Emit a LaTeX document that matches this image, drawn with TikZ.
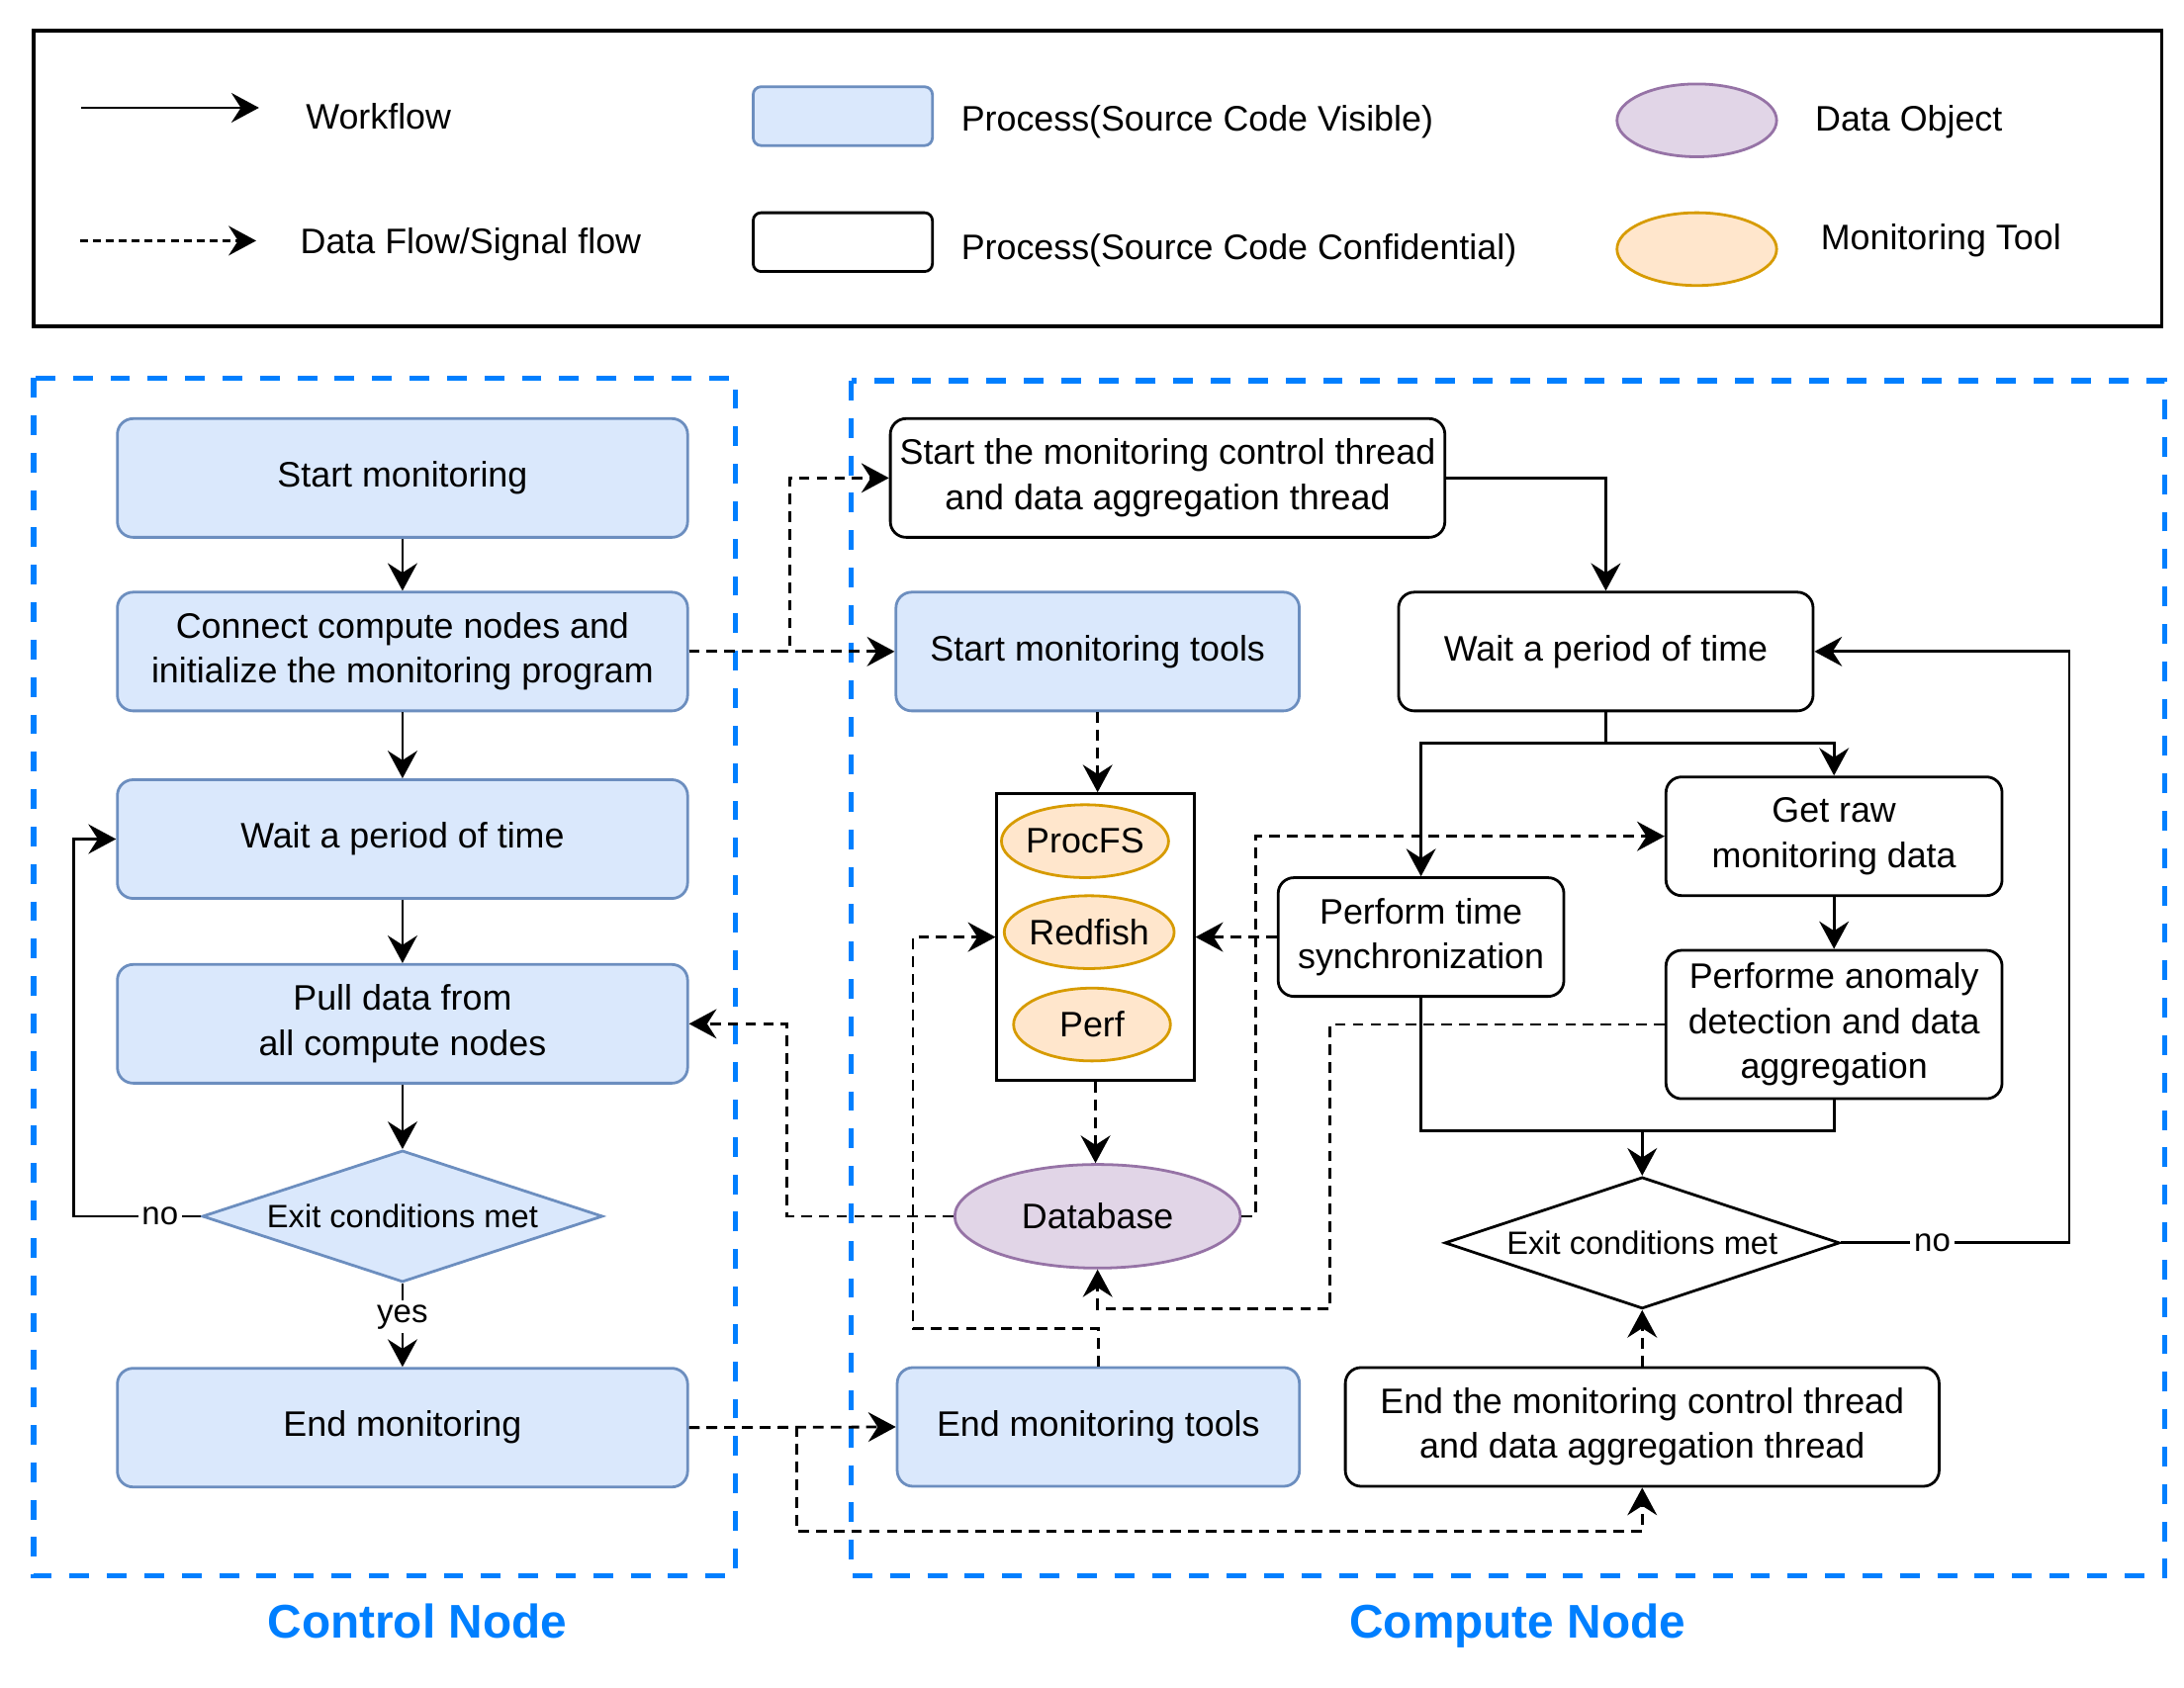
\documentclass[tikz,border=0pt]{standalone}
\usepackage{fontspec}
\setmainfont{Liberation Sans}
\usetikzlibrary{arrows.meta,shapes.geometric,calc}
\definecolor{visfill}{HTML}{DAE8FC}
\definecolor{visline}{HTML}{6C8EBF}
\definecolor{dbfill}{HTML}{E1D5E7}
\definecolor{dbline}{HTML}{9673A6}
\definecolor{toolfill}{HTML}{FFE6CC}
\definecolor{toolline}{HTML}{D79B00}
\definecolor{nodeblue}{HTML}{007FFF}
\tikzset{
  flow/.style={-{Stealth[length=7pt,width=7.5pt,inset=2.4pt]},line width=0.7pt},
  sig/.style={flow,dash pattern=on 2.7pt off 1.8pt},
  visbox/.style={draw=visline,fill=visfill,line width=0.7pt,rounded corners=4pt,align=center,inner sep=0pt},
  conbox/.style={draw=black,fill=white,line width=0.7pt,rounded corners=4pt,align=center,inner sep=0pt},
  ctrlbox/.style={visbox,minimum width=5.09cm,minimum height=1.06cm},
  tool/.style={ellipse,draw=toolline,fill=toolfill,line width=0.7pt,inner sep=0pt,minimum width=1.4cm,minimum height=0.65cm},
  dbase/.style={ellipse,draw=dbline,fill=dbfill,line width=0.7pt,inner sep=0pt},
  decide/.style={diamond,aspect=3,inner sep=0pt,line width=0.7pt,font=\fontsize{8.2}{10}\selectfont},
  lbl/.style={fill=white,inner sep=1pt,font=\fontsize{8.3}{10}\selectfont},
  legtxt/.style={anchor=west,inner sep=0pt},
  region/.style={draw=nodeblue,line width=1.3pt,dash pattern=on 5pt off 4.5pt},
  regtitle/.style={anchor=base,text=nodeblue,font=\fontsize{12}{14}\selectfont\bfseries}
}
\begin{document}
\begin{tikzpicture}[x=0.0125cm,y=-0.0125cm,font=\fontsize{9}{11.4}\selectfont]
\useasboundingbox (0,0) rectangle (1560,1206);
% legend
\draw[line width=0.9pt] (24,22) rectangle (1544,233);
\coordinate (wfa) at (58,77);
\coordinate (wfb) at (185,77);
\draw[flow] (wfa) -- (wfb);
\node[legtxt] (wft) at (218,83) {Workflow};
\coordinate (dfa) at (57,172);
\coordinate (dfb) at (183,172);
\draw[sig,dash pattern=on 2pt off 1.3pt] (dfa) -- (dfb);
\node[legtxt] (dft) at (214,175) {Data Flow/Signal flow};
\node[visbox,minimum width=1.6cm,minimum height=0.525cm,rounded corners=2pt] (lgv) at (602,83) {};
\node[legtxt] (lgvt) at (686,87) {Process(Source Code Visible)};
\node[conbox,minimum width=1.6cm,minimum height=0.525cm,rounded corners=2pt] (lgc) at (602,173) {};
\node[legtxt] (lgct) at (686,179) {Process(Source Code Confidential)};
\node[dbase,minimum width=1.425cm,minimum height=0.65cm] (lgd) at (1212,86) {};
\node[legtxt] (lgdt) at (1296,87) {Data Object};
\node[tool,minimum width=1.425cm] (lgt) at (1212,178) {};
\node[legtxt] (lgtt) at (1300,172) {Monitoring Tool};

% regions
\draw[region] (24,270) rectangle (525,1126);
\draw[region] (608,272) rectangle (1546,1126);
\node[regtitle] (ctl) at (298,1170) {Control Node};
\node[regtitle] (cmp) at (1084,1170) {Compute Node};

% control node
\node[ctrlbox] (sm) at (287.5,341.5) {Start monitoring};
\node[ctrlbox] (cc) at (287.5,465.5) {Connect compute nodes and\\initialize the monitoring program};
\node[ctrlbox] (wl) at (287.5,599.5) {Wait a period of time};
\node[ctrlbox] (pd) at (287.5,731.5) {Pull data from\\all compute nodes};
\node[decide,draw=visline,fill=visfill,minimum width=3.575cm,minimum height=1.175cm] (exl) at (287.5,869) {Exit conditions met};
\node[ctrlbox] (em) at (287.5,1020) {End monitoring};
\draw[flow] (sm) -- (cc);
\draw[flow] (cc) -- (wl);
\draw[flow] (wl) -- (pd);
\draw[flow] (pd) -- (exl);
\draw[flow] (exl) -- node[lbl,pos=0.4] {yes} (em);
\draw[flow] (exl.west) -- node[lbl,pos=0.32] {no} ++(-91,0) |- (wl.west);

% compute node
\node[conbox,minimum width=4.95cm,minimum height=1.06cm] (st) at (834,341.5) {Start the monitoring control thread\\and data aggregation thread};
\node[visbox,minimum width=3.6cm,minimum height=1.06cm] (stt) at (784,465.5) {Start monitoring tools};
\node[draw,line width=0.7pt,minimum width=1.76cm,minimum height=2.56cm] (tools) at (782.5,669.5) {};
\node[tool] (pfs) at (775,601) {ProcFS};
\node[tool] (rfs) at (778,666) {Redfish};
\node[tool] (prf) at (780,732) {Perf};
\node[dbase,minimum width=2.55cm,minimum height=0.925cm] (db) at (784,869) {Database};
\node[visbox,minimum width=3.59cm,minimum height=1.06cm] (etl) at (784.5,1019.5) {End monitoring tools};
\node[conbox,minimum width=3.7cm,minimum height=1.06cm] (wr) at (1147,465.5) {Wait a period of time};
\node[conbox,minimum width=3cm,minimum height=1.06cm] (gr) at (1310,597.5) {Get raw\\monitoring data};
\node[conbox,minimum width=2.55cm,minimum height=1.06cm] (ts) at (1015,669.5) {Perform time\\synchronization};
\node[conbox,minimum width=3cm,minimum height=1.325cm] (an) at (1310,732) {Performe anomaly\\detection and data\\aggregation};
\node[decide,draw=black,fill=white,minimum width=3.525cm,minimum height=1.175cm] (exr) at (1173,888) {Exit conditions met};
\node[conbox,minimum width=5.3cm,minimum height=1.06cm] (et) at (1173,1019.5) {End the monitoring control thread\\and data aggregation thread};
\coordinate (jn) at (1173,808);

\draw[flow] (st.east) -| (wr.north);
\draw[flow] (wr.south) -- ++(0,22) -| (ts.north);
\draw[flow] (wr.south) -- ++(0,22) -| (gr.north);
\draw[flow] (gr) -- (an);
\draw[line width=0.7pt] (ts.south) |- (jn) -| (an.south);
\draw[flow] (jn) -- (exr.north);
\draw[flow] (exr.east) -- node[lbl,pos=0.4] {no} ++(163,0) |- (wr.east);
\draw[sig] (et.north) -- (exr.south);

% data and signal flow
\draw[sig] (cc.east) -- (stt.west);
\draw[sig] (cc.east) -- ++(72,0) |- (st.west);
\draw[sig] (stt.south) -- (stt.south |- tools.north);
\draw[sig] (tools.south) -- (tools.south |- db.north);
\draw[sig] (db.west) -| ($(pd.east)+(70,0)$) -- (pd.east);
\draw[sig] (db.east) -- ++(10,0) |- (gr.west);
\draw[sig] (ts.west) -- (tools.east);
\draw[sig] (an.west) -- ++(-239,0) |- ($(db.south)+(0,28)$) -- (db.south);
\draw[sig] (etl.north) -- ++(0,-27) -| ($(tools.west)+(-59,0)$) -- (tools.west);
\draw[sig] (em.east) -- (etl.west);
\draw[sig] (em.east) -- ++(77,0) |- ($(et.south)+(0,31)$) -- (et.south);
\end{tikzpicture}
\end{document}
